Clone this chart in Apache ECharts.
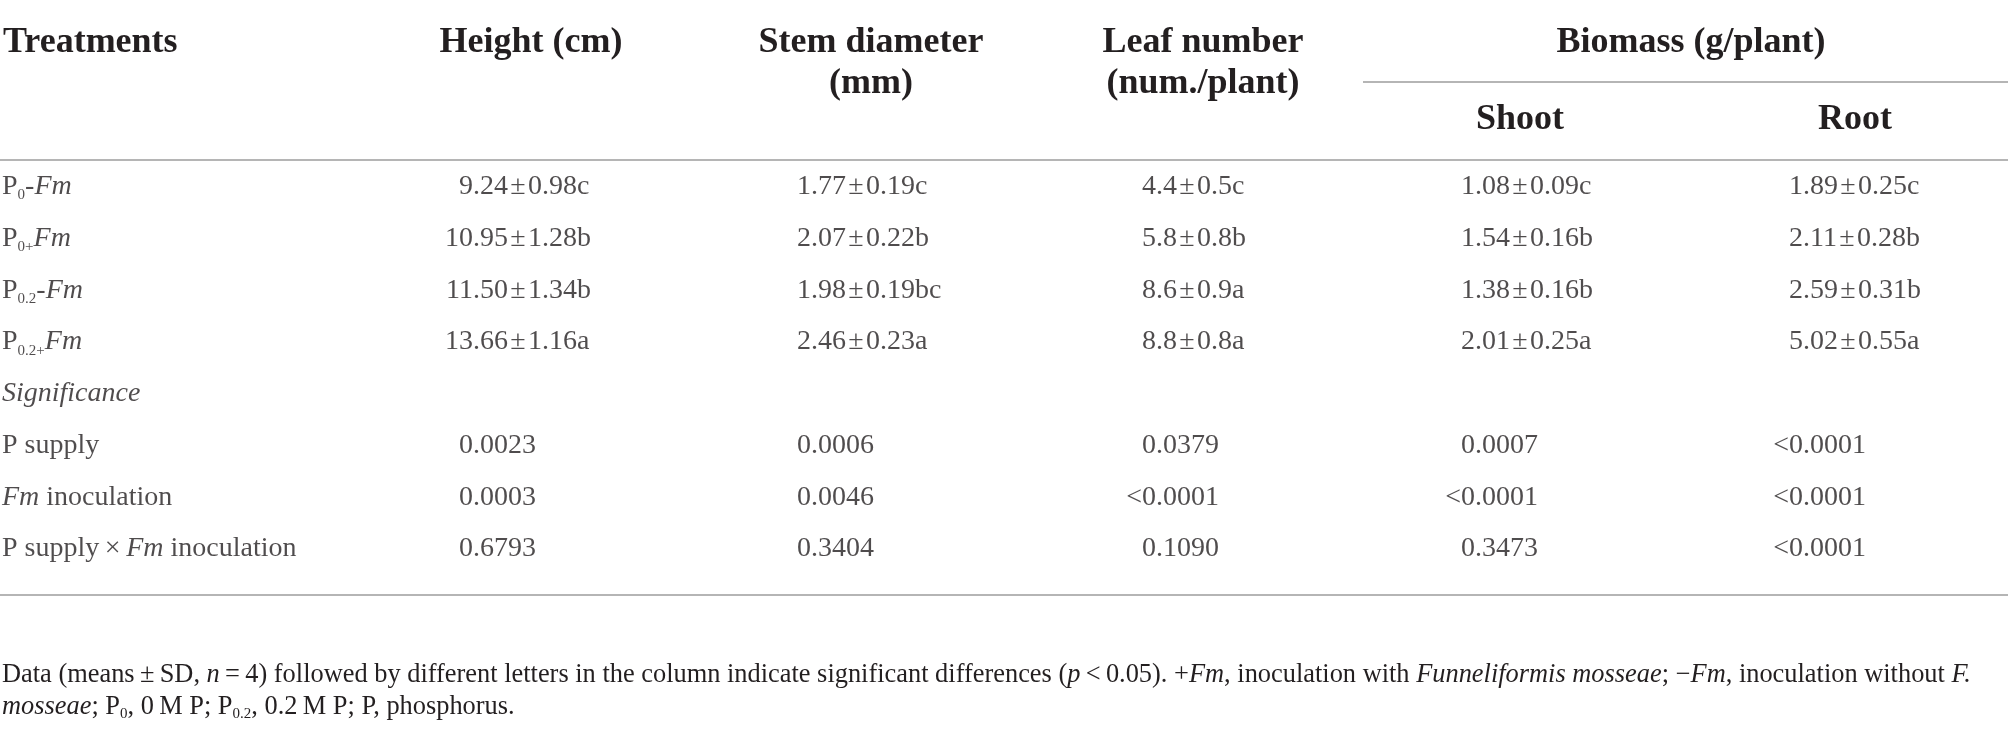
<!DOCTYPE html>
<html>
<head>
<meta charset="utf-8">
<script src="https://cdn.jsdelivr.net/npm/echarts@6/dist/echarts.min.js"></script>
<style>
    html, body { margin: 0; padding: 0; background: #fff; }
    #main { width: 2008px; height: 735px; }
</style>
</head>
<body>
<div id="main"></div>
<script>
// rows of the table ({s|..} subscript, {i|..} italic)
var rowLabels = ['P{s|0}-{i|Fm}', 'P{s|0+}{i|Fm}', 'P{s|0.2}-{i|Fm}', 'P{s|0.2+}{i|Fm}',
    '{i|Significance}', 'P supply', '{i|Fm} inoculation', 'P supply\u2009×\u2009{i|Fm} inoculation'];

// means, SD and letters for the 4 treatments
var heightMean = [9.24, 10.95, 11.50, 13.66];
var heightSd = [0.98, 1.28, 1.34, 1.16];
var heightSig = ['c', 'b', 'b', 'a'];
var stemMean = [1.77, 2.07, 1.98, 2.46];
var stemSd = [0.19, 0.22, 0.19, 0.23];
var stemSig = ['c', 'b', 'bc', 'a'];
var leafMean = [4.4, 5.8, 8.6, 8.8];
var leafSd = [0.5, 0.8, 0.9, 0.8];
var leafSig = ['c', 'b', 'a', 'a'];
var shootMean = [1.08, 1.54, 1.38, 2.01];
var shootSd = [0.09, 0.16, 0.16, 0.25];
var shootSig = ['c', 'b', 'b', 'a'];
var rootMean = [1.89, 2.11, 2.59, 5.02];
var rootSd = [0.25, 0.28, 0.31, 0.55];
var rootSig = ['c', 'b', 'b', 'a'];

// p values: P supply, Fm inoculation, P supply x Fm inoculation
var heightP = ['0.0023', '0.0003', '0.6793'];
var stemP = ['0.0006', '0.0046', '0.3404'];
var leafP = ['0.0379', '<0.0001', '0.1090'];
var shootP = ['0.0007', '<0.0001', '0.3473'];
var rootP = ['<0.0001', '<0.0001', '<0.0001'];

// layout
var colDot = [473, 811, 1156, 1475, 1803];   // x of the decimal point in each column
var txtColor = '#231f20';
var lineColor = '#9c9c9c';
var serif = '"Liberation Serif", "DejaVu Serif", serif';
var bodySize = 28;
var headSize = 36;
var noteSize = 26.4;

var columns = [
    {mean: heightMean, sd: heightSd, sig: heightSig, p: heightP, dec: 2},
    {mean: stemMean, sd: stemSd, sig: stemSig, p: stemP, dec: 2},
    {mean: leafMean, sd: leafSd, sig: leafSig, p: leafP, dec: 1},
    {mean: shootMean, sd: shootSd, sig: shootSig, p: shootP, dec: 2},
    {mean: rootMean, sd: rootSd, sig: rootSig, p: rootP, dec: 2}
];

var intData = [];
var fracData = [];
columns.forEach(function (col, c) {
    var cells = [];
    for (var i = 0; i < col.mean.length; i++) {
        cells.push([i, col.mean[i].toFixed(col.dec) + '\u200a±\u200a' + col.sd[i].toFixed(col.dec) + col.sig[i]]);
    }
    for (var j = 0; j < col.p.length; j++) {
        cells.push([5 + j, col.p[j]]);
    }
    // split at the decimal point so the column lines up on it
    cells.forEach(function (cell) {
        var k = cell[1].indexOf('.');
        intData.push([colDot[c], cell[0], cell[1].slice(0, k)]);
        fracData.push([colDot[c], cell[0], cell[1].slice(k)]);
    });
});

var labelData = rowLabels.map(function (t, i) { return [2, i, t]; });

function richStyles(size, lh) {
    return {
        i: {fontFamily: serif, fontSize: size, fontStyle: 'italic', color: txtColor, lineHeight: lh, verticalAlign: 'middle'},
        s: {fontFamily: serif, fontSize: Math.round(size * 0.55), color: txtColor, lineHeight: Math.round(size * 0.55), verticalAlign: 'bottom'}
    };
}

function cellLabel(pos) {
    return {
        show: true,
        position: pos,
        distance: 0,
        fontFamily: serif,
        fontSize: bodySize,
        lineHeight: 32,
        color: txtColor,
        formatter: function (p) { return p.value[2]; },
        rich: richStyles(bodySize, 32)
    };
}

function headText(text, x, y, align) {
    return {
        type: 'text',
        x: x,
        y: y + 2,
        style: {
            text: text,
            fontFamily: serif,
            fontSize: headSize,
            fontWeight: 'bold',
            fill: txtColor,
            align: align, textAlign: align,
            verticalAlign: 'middle', textVerticalAlign: 'middle'
        }
    };
}

function rule(x1, x2, y) {
    return {
        type: 'line',
        shape: {x1: x1, y1: y, x2: x2, y2: y},
        style: {stroke: lineColor, lineWidth: 1.5}
    };
}

function noteText(text, y) {
    return {
        type: 'text',
        x: 2,
        y: y,
        style: {
            text: text,
            fontFamily: serif,
            fontSize: noteSize,
            lineHeight: 30,
            fill: txtColor,
            align: 'left', textAlign: 'left',
            verticalAlign: 'middle', textVerticalAlign: 'middle',
            rich: {
                i: {fontFamily: serif, fontSize: noteSize, fontStyle: 'italic', fill: txtColor, lineHeight: 30, verticalAlign: 'middle'},
                s: {fontFamily: serif, fontSize: 15, fill: txtColor, lineHeight: 15, verticalAlign: 'bottom'}
            }
        }
    };
}

var myChart = echarts.init(document.getElementById('main'));
var option = {
    backgroundColor: '#fff',
    animation: false,
    grid: {left: 0, right: 0, top: 161, bottom: 160},
    xAxis: {type: 'value', min: 0, max: 2008, show: false},
    yAxis: {type: 'category', inverse: true, show: false, data: rowLabels.map(function (t, i) { return i; })},
    graphic: [
        headText('Treatments', 3, 41, 'left'),
        headText('Height (cm)', 531, 41, 'center'),
        headText('Stem diameter', 871, 41, 'center'),
        headText('(mm)', 871, 82, 'center'),
        headText('Leaf number', 1203, 41, 'center'),
        headText('(num./plant)', 1203, 82, 'center'),
        headText('Biomass (g/plant)', 1691, 41, 'center'),
        headText('Shoot', 1520, 118, 'center'),
        headText('Root', 1855, 118, 'center'),
        rule(1363, 2008, 82),
        rule(0, 2008, 160),
        rule(0, 2008, 595),
        noteText('Data (means\u2009±\u2009SD, {i|n}\u2009=\u20094) followed by different letters in the column indicate significant differences ({i|p}\u2009<\u20090.05). +{i|Fm}, inoculation with {i|Funneliformis mosseae}; \u2212{i|Fm}, inoculation without {i|F.}', 675),
        noteText('{i|mosseae}; P{s|0}, 0\u2009M P; P{s|0.2}, 0.2\u2009M P; P, phosphorus.', 707)
    ],
    series: [
        {
            name: 'rows',
            type: 'scatter',
            symbolSize: 0,
            silent: true,
            data: labelData,
            label: cellLabel('right')
        },
        {
            name: 'intPart',
            type: 'scatter',
            symbolSize: 0,
            silent: true,
            data: intData,
            label: cellLabel('left')
        },
        {
            name: 'fracPart',
            type: 'scatter',
            symbolSize: 0,
            silent: true,
            data: fracData,
            label: cellLabel('right')
        }
    ]
};
myChart.setOption(option);
</script>
</body>
</html>
